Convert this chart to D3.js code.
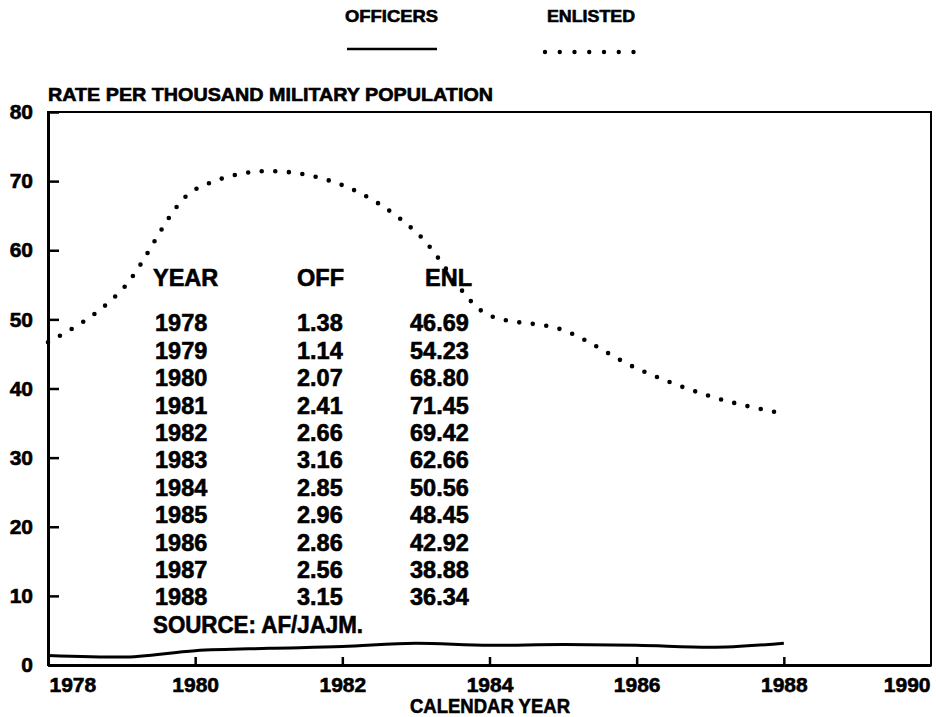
<!DOCTYPE html>
<meta charset="utf-8">
<head>
    <meta charset="UTF-8">
    <title>Rate per Thousand Military Population</title>
    <style>
      body { margin: 0; background: #fff; }
      text { font-family: "Liberation Sans", Arial, sans-serif; font-weight: bold; fill: #000;
             stroke: #000; stroke-width: 0.6px; }
    </style>
</head>
<body>
<script src="https://d3js.org/d3.v7.min.js"></script>
<div id="chart"></div>
<script>

    // data (and its inset table)
    const years = [1978, 1979, 1980, 1981, 1982, 1983, 1984, 1985, 1986, 1987, 1988]
    const offRates = [1.38, 1.14, 2.07, 2.41, 2.66, 3.16, 2.85, 2.96, 2.86, 2.56, 3.15]
    const enlRates = [46.69, 54.23, 68.80, 71.45, 69.42, 62.66, 50.56, 48.45, 42.92, 38.88, 36.34]
    const xTicks = [1978, 1980, 1982, 1984, 1986, 1988, 1990]
    const yTicks = [0, 10, 20, 30, 40, 50, 60, 70, 80]
    const tableHeaders = ["YEAR", "OFF", "ENL"]
    const sourceNote = "SOURCE: AF/JAJM."

    const W = 936, H = 717
    const svg = d3.select("#chart")
      .append("svg")
        .attr("width", W)
        .attr("height", H)

    // scales
    const x = d3.scaleLinear()
      .domain([1978, 1990])
      .range([48, 931])
    const y = d3.scaleLinear()
      .domain([0, 80])
      .range([665, 112])

    // plot frame
    svg.append("rect")
      .attr("x", x(1978))
      .attr("y", y(80))
      .attr("width", x(1990) - x(1978))
      .attr("height", y(0) - y(80))
      .attr("fill", "none")
      .attr("stroke", "#000")
      .attr("stroke-width", 2)

    // y axis
    const yAxis = svg.append("g")
      .attr("transform", `translate(${x(1978)},0)`)
      .call(d3.axisLeft(y).tickValues(yTicks).tickFormat(d3.format("d"))
        .tickSizeInner(-11).tickSizeOuter(0).tickPadding(15))
    yAxis.select(".domain").attr("stroke-width", 3)
    yAxis.selectAll(".tick line").attr("stroke-width", 2.5)
    yAxis.selectAll(".tick text")
      .style("font-size", "21px")
      .attr("font-family", null)

    // x axis
    const xAxis = svg.append("g")
      .attr("transform", `translate(0,${y(0)})`)
      .call(d3.axisBottom(x).tickValues(xTicks).tickFormat(d3.format("d"))
        .tickSizeInner(-8).tickSizeOuter(0).tickPadding(12))
    xAxis.select(".domain").attr("stroke-width", 3)
    xAxis.selectAll(".tick line")
      .attr("stroke-width", 2.5)
      .attr("opacity", d => (d === 1978 || d === 1990) ? 0 : 1)
    xAxis.selectAll(".tick text")
      .style("font-size", "21px")
      .attr("font-family", null)
      .attr("dy", "0.71em")
      .attr("text-anchor", d => d === 1978 ? "start" : d === 1990 ? "end" : "middle")
      .attr("dx", d => d === 1978 ? 1 : d === 1990 ? -1 : 0)

    // axis titles
    svg.append("text")
      .attr("x", 48)
      .attr("y", 101)
      .attr("textLength", 445)
      .attr("lengthAdjust", "spacingAndGlyphs")
      .style("font-size", "18px")
      .text("RATE PER THOUSAND MILITARY POPULATION")

    svg.append("text")
      .attr("x", 490)
      .attr("y", 713)
      .attr("text-anchor", "middle")
      .attr("textLength", 160)
      .attr("lengthAdjust", "spacingAndGlyphs")
      .style("font-size", "21px")
      .text("CALENDAR YEAR")

    // lines
    const line = d3.line()
      .x((d, i) => x(years[i]))
      .y(d => y(d))
      .curve(d3.curveMonotoneX)

    svg.append("path")
      .datum(offRates)
      .attr("d", line)
      .attr("fill", "none")
      .attr("stroke", "#000")
      .attr("stroke-width", 3)

    svg.append("path")
      .datum(enlRates)
      .attr("d", line)
      .attr("fill", "none")
      .attr("stroke", "#000")
      .attr("stroke-width", 4.6)
      .attr("stroke-linecap", "round")
      .attr("stroke-dasharray", "0 13.6")

    // legend
    const legend = svg.append("g")
    legend.append("text")
      .attr("x", 345).attr("y", 22)
      .attr("textLength", 93)
      .attr("lengthAdjust", "spacingAndGlyphs")
      .style("font-size", "17px")
      .text("OFFICERS")
    legend.append("line")
      .attr("x1", 347).attr("x2", 437)
      .attr("y1", 49).attr("y2", 49)
      .attr("stroke", "#000")
      .attr("stroke-width", 2.5)
    legend.append("text")
      .attr("x", 547).attr("y", 22)
      .attr("textLength", 88)
      .attr("lengthAdjust", "spacingAndGlyphs")
      .style("font-size", "17px")
      .text("ENLISTED")
    legend.append("line")
      .attr("x1", 545).attr("x2", 634)
      .attr("y1", 52).attr("y2", 52)
      .attr("stroke", "#000")
      .attr("stroke-width", 4.4)
      .attr("stroke-linecap", "round")
      .attr("stroke-dasharray", "0 14.75")

    // inset data table
    const table = svg.append("g").style("font-size", "23.5px")
    const colX = [155, 297, 410]
    const headX = [153, 297, 425]
    const rowY = i => 323 + i * 27.4

    table.selectAll(".head")
      .data(tableHeaders)
      .join("text")
        .attr("class", "head")
        .attr("x", (d, i) => headX[i])
        .attr("y", 278)
        .attr("dy", "0.36em")
        .text(d => d)

    const rows = table.selectAll(".row")
      .data(years)
      .join("g")
        .attr("class", "row")
        .attr("transform", (d, i) => `translate(0,${rowY(i)})`)
    rows.append("text")
      .attr("x", colX[0]).attr("dy", "0.36em")
      .text(d => d)
    rows.append("text")
      .attr("x", colX[1]).attr("dy", "0.36em")
      .text((d, i) => offRates[i].toFixed(2))
    rows.append("text")
      .attr("x", colX[2]).attr("dy", "0.36em")
      .text((d, i) => enlRates[i].toFixed(2))

    table.append("text")
      .attr("x", 153)
      .attr("y", 625)
      .attr("dy", "0.36em")
      .attr("textLength", 210)
      .attr("lengthAdjust", "spacingAndGlyphs")
      .text(sourceNote)

</script>
</body>
